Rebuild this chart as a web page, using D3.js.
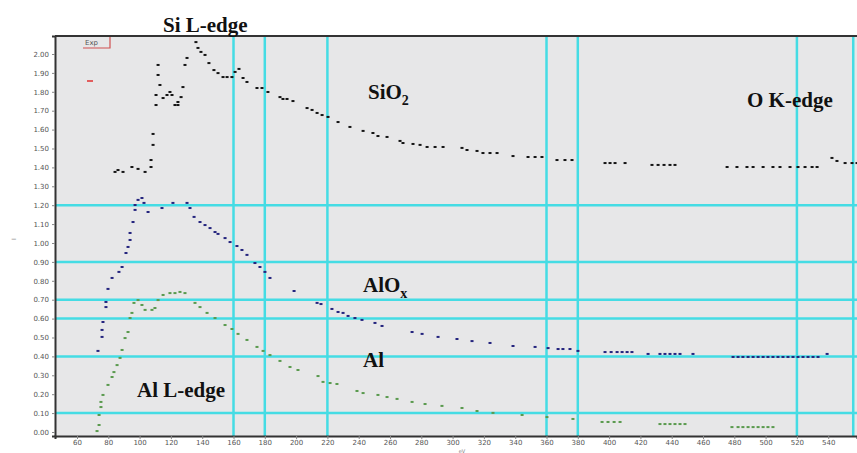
<!DOCTYPE html>
<html>
<head>
<meta charset="utf-8">
<script src="https://cdnjs.cloudflare.com/ajax/libs/d3/7.8.5/d3.min.js"></script>
<style>
body { margin: 0; background: #fff; }
svg { display: block; }
</style>
</head>
<body>
<script>
const width = 857;
const height = 453;
const leftPad = 55;
const rightEdge = 857;
const topPad = 36;
const botEdge = 436;

// energy (eV) / signal pairs
const sio2Points = [[84.3,1.376],[86.2,1.386],[89.4,1.376],[95.1,1.402],[99.0,1.392],[103.5,1.376],[107.3,1.402],[107.3,1.439],
  [108.6,1.519],[108.6,1.577],[110.5,1.730],[110.5,1.783],[111.8,1.889],[111.8,1.942],[113.0,1.836],[115.0,1.767],[117.5,1.783],
  [119.4,1.799],[120.7,1.783],[122.6,1.730],[124.5,1.730],[124.5,1.746],[126.5,1.772],[127.7,1.825],[129.0,1.942],[130.3,1.979],
  [136.0,2.063],[137.3,2.032],[139.2,2.011],[141.8,1.995],[144.3,1.952],[147.5,1.915],[150.1,1.899],[153.3,1.878],[155.9,1.878],
  [159.0,1.878],[161.0,1.905],[163.5,1.921],[166.1,1.873],[168.6,1.852],[175.0,1.820],[178.2,1.820],[182.0,1.799],[189.7,1.772],
  [191.6,1.762],[194.2,1.762],[198.0,1.751],[207.0,1.714],[210.2,1.704],[213.4,1.688],[216.6,1.677],[220.4,1.667],[226.8,1.640],
  [234.4,1.614],[242.8,1.593],[249.1,1.582],[252.3,1.566],[258.1,1.561],[266.4,1.540],[268.3,1.529],[274.7,1.524],[279.2,1.519],
  [283.7,1.508],[288.8,1.508],[293.9,1.508],[306.0,1.503],[309.2,1.492],[315.6,1.487],[319.4,1.476],[323.9,1.476],[328.4,1.476],
  [338.6,1.460],[348.2,1.455],[352.7,1.455],[357.1,1.455],[366.7,1.439],[371.8,1.439],[376.3,1.439],[397.4,1.423],[400.6,1.423],
  [403.8,1.423],[410.2,1.423],[427.4,1.413],[431.3,1.413],[435.1,1.413],[438.9,1.413],[442.1,1.413],[475.4,1.402],[481.7,1.402],
  [488.1,1.402],[492.0,1.402],[498.4,1.402],[504.7,1.402],[509.2,1.402],[515.6,1.402],[520.7,1.402],[525.2,1.402],[529.7,1.402],
  [532.9,1.402],[542.4,1.450],[545.6,1.434],[550.8,1.423],[555.2,1.423],[558.4,1.423]];

const aloxPoints = [[73.4,0.429],[76.0,0.503],[76.0,0.540],[76.6,0.582],[78.5,0.661],[78.5,0.688],[79.8,0.757],[82.4,0.815],
  [86.8,0.847],[88.8,0.873],[91.3,0.947],[92.6,0.979],[93.9,1.016],[93.9,1.053],[95.8,1.111],[97.1,1.175],[97.1,1.201],
  [99.0,1.228],[101.5,1.238],[102.8,1.212],[105.4,1.164],[114.3,1.185],[121.3,1.212],[130.3,1.212],[132.2,1.185],[134.8,1.138],
  [138.6,1.111],[141.8,1.095],[145.0,1.079],[148.2,1.058],[150.1,1.048],[154.6,1.026],[157.8,1.005],[162.2,0.984],[165.4,0.963],
  [168.6,0.937],[173.7,0.894],[176.9,0.873],[180.1,0.847],[183.3,0.815],[198.7,0.746],[213.4,0.683],[215.9,0.677],[222.9,0.651],
  [226.8,0.635],[230.0,0.630],[233.2,0.614],[237.6,0.603],[242.1,0.593],[250.4,0.577],[254.9,0.561],[274.1,0.529],[280.5,0.519],
  [290.7,0.503],[302.8,0.492],[312.4,0.481],[323.9,0.471],[338.6,0.455],[352.7,0.450],[361.0,0.444],[367.4,0.439],[370.5,0.439],
  [375.0,0.439],[380.1,0.429],[397.4,0.423],[401.3,0.423],[405.1,0.423],[408.3,0.423],[411.5,0.423],[414.6,0.423],[424.9,0.413],
  [432.5,0.413],[435.7,0.413],[438.9,0.413],[442.1,0.413],[445.3,0.413],[453.6,0.413],[479.2,0.397],[482.4,0.397],[485.5,0.397],
  [488.8,0.397],[492.0,0.397],[495.2,0.397],[498.4,0.397],[501.5,0.397],[504.7,0.397],[507.9,0.397],[511.1,0.397],[514.3,0.397],
  [517.5,0.397],[520.7,0.397],[523.9,0.397],[527.1,0.397],[530.3,0.397],[533.5,0.397],[539.3,0.413]];

const alPoints = [[72.8,0.005],[74.1,0.037],[74.1,0.090],[75.3,0.132],[75.3,0.159],[76.6,0.196],[79.8,0.249],[82.4,0.291],
  [83.6,0.317],[85.6,0.354],[87.5,0.392],[88.8,0.434],[90.7,0.497],[92.6,0.529],[93.9,0.603],[95.1,0.630],[96.4,0.683],
  [99.0,0.698],[101.5,0.672],[103.5,0.646],[107.9,0.646],[109.8,0.656],[111.8,0.698],[115.0,0.725],[119.4,0.735],[122.6,0.735],
  [125.8,0.741],[129.0,0.735],[135.4,0.683],[138.6,0.661],[143.1,0.630],[148.2,0.603],[154.6,0.566],[159.0,0.545],[162.9,0.519],
  [168.6,0.487],[175.0,0.450],[178.9,0.429],[183.3,0.407],[189.7,0.376],[196.1,0.344],[201.2,0.328],[214.0,0.296],[217.2,0.265],
  [221.7,0.259],[226.1,0.254],[238.9,0.217],[242.8,0.206],[252.3,0.196],[258.1,0.185],[264.5,0.175],[274.1,0.159],[282.4,0.148],
  [293.2,0.138],[306.0,0.127],[315.6,0.111],[325.8,0.101],[344.4,0.090],[360.3,0.079],[376.9,0.069],[395.5,0.053],[399.3,0.053],
  [403.2,0.053],[407.0,0.053],[432.5,0.042],[435.7,0.042],[438.9,0.042],[442.1,0.042],[445.3,0.042],[448.5,0.042],[478.5,0.026],
  [482.4,0.026],[485.5,0.026],[488.8,0.026],[492.0,0.026],[495.2,0.026],[498.4,0.026],[501.5,0.026],[504.7,0.026]];

const xTickValues = [60,80,100,120,140,160,180,200,220,240,260,280,300,320,340,360,380,400,420,440,460,480,500,520,540];
const yTickValues = [0,0.1,0.2,0.3,0.4,0.5,0.6,0.7,0.8,0.9,1.0,1.1,1.2,1.3,1.4,1.5,1.6,1.7,1.8,1.9,2.0];
const vGridValues = [160,180,220,360,380,520,556];
const hGridValues = [0.1,0.4,0.6,0.7,0.9,1.2];

const xScale = d3.scaleLinear().domain([45.94, 558.4]).range([leftPad, rightEdge]);
const yScale = d3.scaleLinear().domain([-0.0212, 2.0952]).range([botEdge, topPad]);

const svg = d3.select("body").append("svg")
    .attr("width", width).attr("height", height)
    .style("background-color", "#fff");

svg.append("defs").append("clipPath").attr("id", "plot-clip")
    .append("rect").attr("x", leftPad).attr("y", topPad)
    .attr("width", rightEdge - leftPad).attr("height", botEdge - topPad);

svg.append("rect")
    .attr("x", leftPad).attr("y", topPad)
    .attr("width", rightEdge - leftPad).attr("height", botEdge - topPad)
    .attr("fill", "#e7e7e8");

const plot = svg.append("g").attr("clip-path", "url(#plot-clip)");

const cyan = "#45dce4";
plot.selectAll(".vgrid").data(vGridValues).enter().append("line")
    .attr("x1", d => xScale(d)).attr("x2", d => xScale(d))
    .attr("y1", topPad).attr("y2", botEdge)
    .attr("stroke", cyan).attr("stroke-width", 2.5);

plot.selectAll(".hgrid").data(hGridValues).enter().append("line")
    .attr("x1", leftPad).attr("x2", rightEdge)
    .attr("y1", d => yScale(d)).attr("y2", d => yScale(d))
    .attr("stroke", cyan).attr("stroke-width", 2.5);

function drawSeries(points, color) {
    plot.append("g").selectAll("rect").data(points).enter().append("rect")
        .attr("x", d => xScale(d[0]) - 1.5)
        .attr("y", d => yScale(d[1]) - 1)
        .attr("width", 3).attr("height", 2)
        .attr("fill", color);
}
drawSeries(alPoints, "#5a9a4e");
drawSeries(aloxPoints, "#24247e");
drawSeries(sio2Points, "#151515");

// axes
const xAxis = d3.axisBottom(xScale).tickValues(xTickValues).tickSize(3).tickPadding(1).tickFormat(d3.format("d"));
const yAxis = d3.axisLeft(yScale).tickValues(yTickValues).tickSize(3).tickFormat(d3.format(".2f"));

const gx = svg.append("g").attr("transform", "translate(0," + botEdge + ")").call(xAxis);
const gy = svg.append("g").attr("transform", "translate(" + leftPad + ",0)").call(yAxis);
[gx, gy].forEach(g => {
    g.select(".domain").attr("stroke", "#333").attr("stroke-width", 2);
    g.selectAll(".tick line").attr("stroke", "#888");
    g.selectAll(".tick text").attr("fill", "#555").style("font-family", "DejaVu Sans, sans-serif").style("font-size", "7px");
});

svg.append("line").attr("x1", leftPad).attr("x2", rightEdge)
    .attr("y1", topPad).attr("y2", topPad)
    .attr("stroke", "#333").attr("stroke-width", 2);

// axis titles (tiny in the source)
svg.append("text").attr("x", 462).attr("y", 452.5).attr("text-anchor", "middle")
    .attr("fill", "#777").style("font-family", "DejaVu Sans, sans-serif").style("font-size", "5px").text("eV");
svg.append("text").attr("transform", "translate(16,239) rotate(-90)").attr("text-anchor", "middle")
    .attr("fill", "#777").style("font-family", "DejaVu Sans, sans-serif").style("font-size", "6px").text("I");

// little legend stub top-left
svg.append("text").attr("x", 85).attr("y", 45)
    .attr("fill", "#555").style("font-family", "DejaVu Sans, sans-serif").style("font-size", "7px").text("Exp");
svg.append("path").attr("d", "M83,48H110V37").attr("fill", "none").attr("stroke", "#d05050").attr("stroke-width", 1.2);
svg.append("line").attr("x1", 87).attr("x2", 93).attr("y1", 81).attr("y2", 81)
    .attr("stroke", "#e03030").attr("stroke-width", 1.5);

// annotations
const labels = [
    {x: 163, y: 32, parts: [["Si L-edge", false]]},
    {x: 368, y: 99, parts: [["SiO", false], ["2", true]]},
    {x: 747, y: 107, parts: [["O K-edge", false]]},
    {x: 363, y: 292, parts: [["AlO", false], ["x", true]]},
    {x: 363, y: 367, parts: [["Al", false]]},
    {x: 137, y: 397, parts: [["Al L-edge", false]]}
];
labels.forEach(l => {
    const t = svg.append("text").attr("x", l.x).attr("y", l.y)
        .style("font-family", "'Liberation Serif', 'Times New Roman', serif")
        .style("font-weight", "bold").style("font-size", "21px").attr("fill", "#111");
    l.parts.forEach(p => {
        const s = t.append("tspan").text(p[0]);
        if (p[1]) s.attr("dy", 6).style("font-size", "14px");
    });
});
</script>
</body>
</html>
